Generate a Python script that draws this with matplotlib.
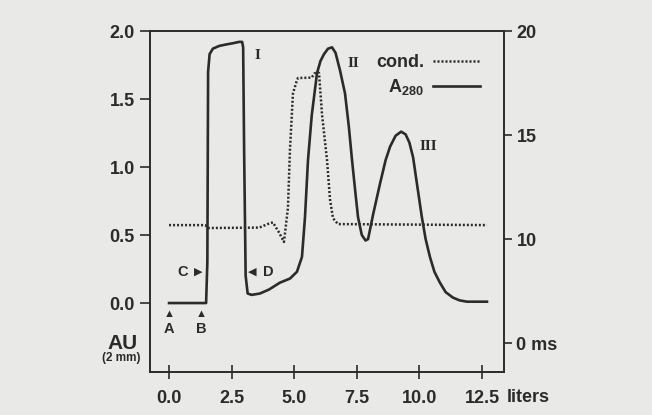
import matplotlib
matplotlib.use("Agg")
import matplotlib.pyplot as plt

# A280 trace (liters, AU)
a280_liters = [0.0, 1.48, 1.53, 1.56, 1.62, 1.75, 2.0, 2.25, 2.55, 2.80, 2.92, 2.96,
               3.00, 3.06, 3.14, 3.30, 3.63, 4.0, 4.43, 4.83, 5.11, 5.31, 5.43, 5.55,
               5.70, 5.91, 6.05, 6.19, 6.35, 6.51, 6.65, 6.83, 7.03, 7.18, 7.31, 7.45,
               7.55, 7.70, 7.85, 7.95, 8.15, 8.43, 8.65, 8.83, 9.05, 9.27, 9.45, 9.60,
               9.75, 9.90, 10.10, 10.25, 10.42, 10.60, 10.82, 11.05, 11.34, 11.60,
               11.90, 12.70]
a280_au = [0.0, 0.0, 0.30, 1.70, 1.83, 1.87, 1.89, 1.90, 1.91, 1.92, 1.92, 1.88,
           1.10, 0.20, 0.07, 0.06, 0.07, 0.10, 0.15, 0.18, 0.23, 0.34, 0.63, 1.05,
           1.38, 1.69, 1.78, 1.83, 1.87, 1.88, 1.84, 1.71, 1.54, 1.30, 1.05, 0.80,
           0.63, 0.50, 0.46, 0.47, 0.65, 0.88, 1.05, 1.15, 1.23, 1.26, 1.24, 1.18,
           1.07, 0.88, 0.63, 0.47, 0.34, 0.23, 0.15, 0.08, 0.04, 0.02,
           0.01, 0.01]

# conductivity trace (liters, ms)
cond_liters = [0.0, 1.44, 1.56, 3.60, 4.00, 4.15, 4.40, 4.59, 4.75, 4.83, 4.95,
               5.10, 5.15, 5.70, 5.80, 5.92, 5.99, 6.11, 6.31, 6.43, 6.55, 6.75,
               12.70]
cond_ms = [10.67, 10.67, 10.53, 10.55, 10.75, 10.80, 10.30, 9.86, 11.50, 14.30, 17.00,
           17.60, 17.74, 17.76, 17.95, 18.03, 17.98, 16.00, 13.80, 11.90, 11.00, 10.72,
           10.67]

x_ticks = [0.0, 2.5, 5.0, 7.5, 10.0, 12.5]
x_labels = ["0.0", "2.5", "5.0", "7.5", "10.0", "12.5"]
au_ticks = [0.0, 0.5, 1.0, 1.5, 2.0]
ms_ticks = [5, 10, 15, 20]
ms_labels = ["0 ms", "10", "15", "20"]

ink = "#2b2b2b"
paper = "#e9e9e7"

plt.rcParams["font.family"] = ["Liberation Sans", "DejaVu Sans"]
plt.rcParams["mathtext.fontset"] = "custom"
plt.rcParams["mathtext.rm"] = "Liberation Sans:bold"
plt.rcParams["mathtext.default"] = "rm"

fig = plt.figure(figsize=(6.52, 4.15), dpi=100, facecolor=paper)
ax = fig.add_axes([0.2301, 0.1036, 0.5429, 0.8217], facecolor=paper)
ax2 = ax.twinx()

line_a, = ax.plot(a280_liters, a280_au, color=ink, lw=1.9, solid_joinstyle="round",
                  label=r"A$_{280}$")
line_c, = ax2.plot(cond_liters, cond_ms, color=ink, lw=1.8, linestyle=(0, (0.8, 0.8)),
                   label="cond.")

ax.set_xlim(-0.76, 13.38)
ax.set_ylim(-0.507, 2.0)
ax2.set_ylim(3.61, 20)

for a in (ax, ax2):
    for s in a.spines.values():
        s.set_color(ink)
        s.set_linewidth(1.2)

ax.set_xticks(x_ticks)
ax.set_xticklabels(x_labels)
ax.set_yticks(au_ticks)
ax.set_yticklabels(["%.1f" % v for v in au_ticks])
ax2.set_yticks(ms_ticks)
ax2.set_yticklabels(ms_labels)

ax.tick_params(axis="x", direction="inout", length=10, width=1.2, color=ink, pad=8,
               labelsize=13, labelcolor=ink)
ax.tick_params(axis="y", direction="out", length=7, width=1.2, color=ink, pad=4,
               labelsize=13, labelcolor=ink)
ax2.tick_params(axis="y", direction="out", length=6, width=1.2, color=ink, pad=3,
                labelsize=13, labelcolor=ink)
for lab in ax.get_xticklabels() + ax.get_yticklabels() + ax2.get_yticklabels():
    lab.set_fontweight("bold")

# peak labels
serif = dict(family="Liberation Serif", fontweight="bold", fontsize=11, color=ink,
             ha="center", va="center")
ax.text(3.52, 1.82, "I", **serif)
ax.text(7.35, 1.76, "II", **serif)
ax.text(10.35, 1.15, "III", **serif)

# A / B / C / D markers
sans = dict(fontweight="bold", color=ink, ha="center", va="center")
ax.text(0.0, -0.08, "\u25b2", fontsize=8, **sans)
ax.text(0.0, -0.19, "A", fontsize=10.5, **sans)
ax.text(1.28, -0.08, "\u25b2", fontsize=8, **sans)
ax.text(1.28, -0.19, "B", fontsize=10.5, **sans)
ax.text(0.56, 0.23, "C", fontsize=10.5, **sans)
ax.text(1.16, 0.23, "\u25b6", fontsize=8, **sans)
ax.text(3.31, 0.23, "\u25c0", fontsize=8, **sans)
ax.text(3.95, 0.23, "D", fontsize=10.5, **sans)

fig.text(507 / 652, 1 - 397 / 415, "liters", fontsize=13, fontweight="bold", color=ink,
         ha="left", va="center")
fig.text(123 / 652, 1 - 343 / 415, "AU", fontsize=15, fontweight="bold", color=ink,
         ha="center", va="center")
fig.text(121 / 652, 1 - 358 / 415, "(2 mm)", fontsize=8.5, fontweight="bold", color=ink,
         ha="center", va="center")

leg = ax.legend([line_c, line_a], ["cond.", r"A$_{280}$"], loc="upper right",
                bbox_to_anchor=(480 / 652, 1 - 54 / 415), bbox_transform=fig.transFigure,
                frameon=False, markerfirst=False, handlelength=2.6, handletextpad=0.5,
                borderpad=0, borderaxespad=0, labelspacing=0.35, fontsize=13)
for t in leg.get_texts():
    t.set_fontweight("bold")
    t.set_color(ink)

fig.savefig("out.png", dpi=100, facecolor=paper)
